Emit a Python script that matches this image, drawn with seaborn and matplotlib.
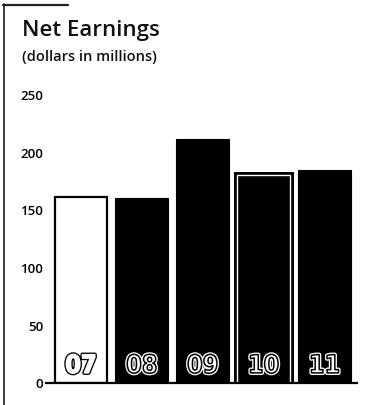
import matplotlib
matplotlib.use("Agg")
import matplotlib.pyplot as plt
import matplotlib.patheffects as pe
from matplotlib.lines import Line2D
import seaborn as sns
import pandas as pd

# Net earnings by fiscal year (dollars in millions)
years = ["07", "08", "09", "10", "11"]
earnings = [161, 160, 211, 180, 184]
y_ticks = [0, 50, 100, 150, 200, 250]

df = pd.DataFrame({"year": years, "earnings": earnings})

sns.set_theme(style="white")
plt.rcParams["font.family"] = ["Open Sans", "DejaVu Sans"]

W, H, DPI = 367, 406, 100
fig = plt.figure(figsize=(W / DPI, H / DPI), dpi=DPI)
ax = fig.add_axes([46 / W, 22.5 / H, 311 / W, 288.5 / H])

sns.barplot(data=df, x="year", y="earnings", color="black", width=0.87,
            saturation=1, ax=ax)

bars = ax.patches
# First year shown as an outlined white bar
bars[0].set_facecolor("white")
bars[0].set_edgecolor("black")
bars[0].set_linewidth(1.6)
for b in bars[1:]:
    b.set_edgecolor("black")
    b.set_linewidth(0.8)
# Fourth year has a thin white inner border
bars[3].set_edgecolor("white")
bars[3].set_linewidth(1.0)
bars[3].set_path_effects([pe.Stroke(linewidth=5, foreground="black"), pe.Normal()])

ax.set_xlim(-0.575, 4.535)
ax.set_ylim(0, 250)
ax.set_yticks(y_ticks)
ax.set_yticklabels([str(t) for t in y_ticks], fontsize=9.5,
                   fontweight="semibold", color="black")
ax.tick_params(axis="y", length=0, pad=2)
ax.set_xticks([])
ax.set_xlabel("")
ax.set_ylabel("")
for s in ["top", "right", "left"]:
    ax.spines[s].set_visible(False)
ax.spines["bottom"].set_color("black")
ax.spines["bottom"].set_linewidth(1.6)

# Year labels at the foot of each bar, in outlined condensed digits
for i, yr in enumerate(years):
    if i == 0:
        effects = [pe.Stroke(linewidth=3.0, foreground="black"),
                   pe.Stroke(linewidth=1.1, foreground="white")]
    else:
        effects = [pe.Stroke(linewidth=3.0, foreground="white"),
                   pe.Stroke(linewidth=1.1, foreground="black")]
    ax.text(i, 4, yr, ha="center", va="bottom", fontsize=18,
            fontweight="bold", fontstretch="condensed", color="white",
            family=["DejaVu Sans"], path_effects=effects, zorder=5)

# Title block
fig.text(22 / W, 1 - 20 / H, "Net Earnings", fontsize=16, fontweight="semibold",
         ha="left", va="top", color="#111111")
fig.text(22 / W, 1 - 50 / H, "(dollars in millions)", fontsize=10.5,
         fontweight="semibold", ha="left", va="top", color="#111111")

# Frame lines along the left and top-left edge
fig.add_artist(Line2D([3.5 / W, 3.5 / W], [0, 1 - 5 / H], transform=fig.transFigure,
                      color="#222222", linewidth=1.2))
fig.add_artist(Line2D([3 / W, 68 / W], [1 - 5.5 / H, 1 - 5.5 / H],
                      transform=fig.transFigure, color="#222222", linewidth=1.6))

fig.savefig("out.png", dpi=DPI)
